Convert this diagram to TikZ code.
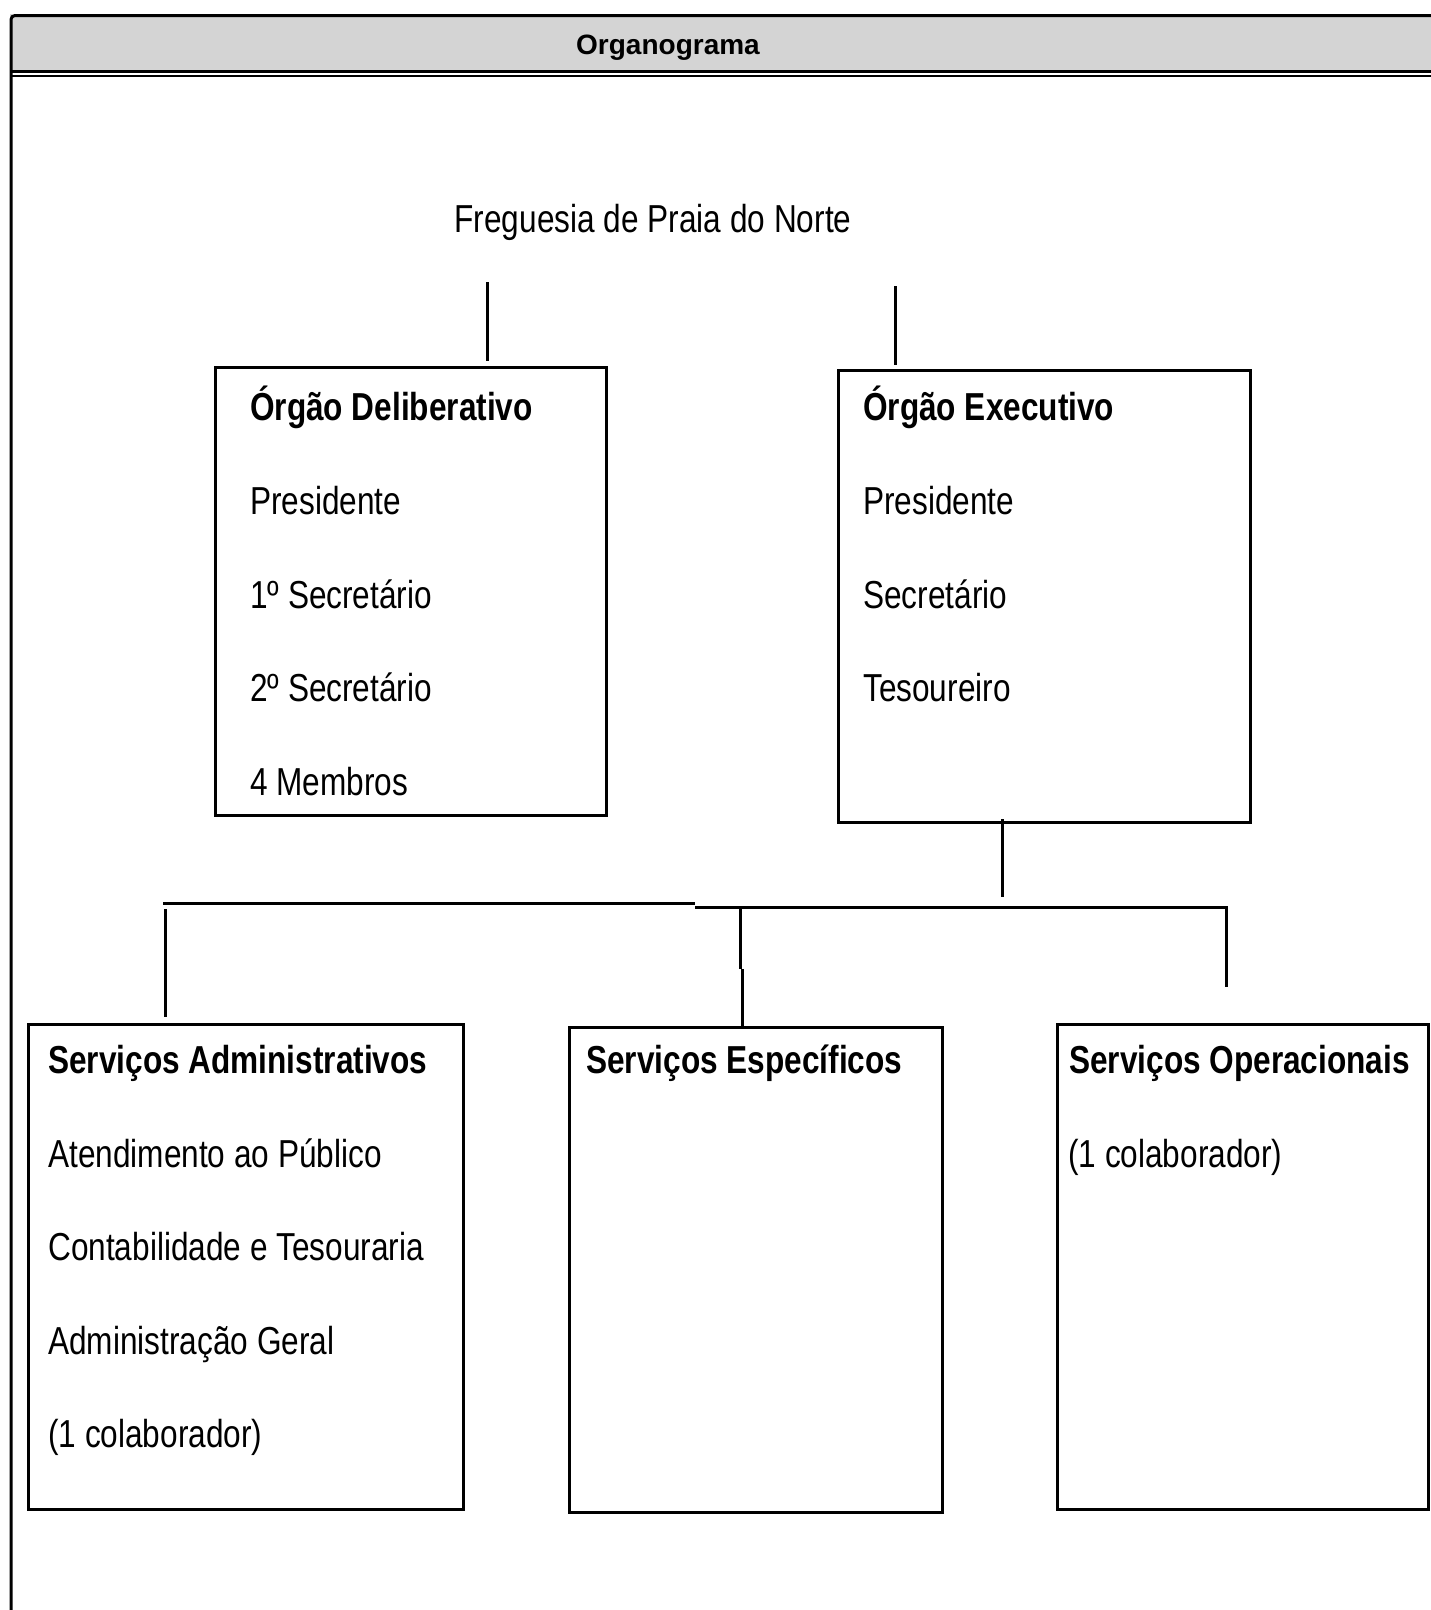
\documentclass[tikz,border=0pt]{standalone}
\usepackage{fontspec}
\setmainfont{Liberation Sans}[FakeStretch=0.81]
\newfontfamily\headfont{Liberation Sans}
\definecolor{hdrgray}{RGB}{212,212,212}
\begin{document}
\begin{tikzpicture}[x=1pt,y=-1pt,
  box/.style={draw, line width=3pt, anchor=north west, inner sep=0pt, outer sep=0pt},
  txt/.style={anchor=base west, inner sep=0pt, font=\fontsize{39}{39}\selectfont},
  hd/.style={anchor=base west, inner sep=0pt, font=\fontsize{39}{39}\selectfont\bfseries},
  conn/.style={line width=3pt}]
\useasboundingbox (0,0) rectangle (1431,1610);
% frame and header
\fill[hdrgray] (10,14) rectangle (1431,72);
\draw[line width=3pt, rounded corners=4pt] (11,1610) -- (11,15.5) -- (1431,15.5);
\draw[line width=3pt] (11,71.5) -- (1431,71.5);
\draw[line width=2pt] (11,76) -- (1431,76);
\node[anchor=base, inner sep=0pt, font=\headfont\bfseries\fontsize{28}{28}\selectfont] (hdr) at (668,54) {Organograma};
% title
\node[txt, anchor=base] (fr) at (653,232) {Freguesia de Praia do Norte};
% boxes
\node[box, minimum width=391pt, minimum height=448pt] (od) at (215,367) {};
\node[box, minimum width=412pt, minimum height=452pt] (oe) at (838,370) {};
\node[box, minimum width=435pt, minimum height=485pt] (sa) at (28,1024) {};
\node[box, minimum width=373pt, minimum height=485pt] (se) at (569,1027) {};
\node[box, minimum width=371pt, minimum height=485pt] (so) at (1057,1024) {};
% texts: Orgao Deliberativo
\node[hd] (od0) at (250,420) {Órgão Deliberativo};
\node[txt] (od1) at (250,514) {Presidente};
\node[txt] (od2) at (250,608) {1º Secretário};
\node[txt] (od3) at (250,701) {2º Secretário};
\node[txt] (od4) at (250,795) {4 Membros};
% Orgao Executivo
\node[hd] (oe0) at (863,420) {Órgão Executivo};
\node[txt] (oe1) at (863,514) {Presidente};
\node[txt] (oe2) at (863,608) {Secretário};
\node[txt] (oe3) at (863,701) {Tesoureiro};
% Servicos
\node[hd] (sa0) at (48,1073) {Serviços Administrativos};
\node[txt] (sa1) at (48,1167) {Atendimento ao Público};
\node[txt] (sa2) at (48,1260) {Contabilidade e Tesouraria};
\node[txt] (sa3) at (48,1354) {Administração Geral};
\node[txt] (sa4) at (48,1447) {(1 colaborador)};
\node[hd] (se0) at (586,1073) {Serviços Específicos};
\node[hd] (so0) at (1069,1073) {Serviços Operacionais};
\node[txt] (so1) at (1068,1167) {(1 colaborador)};
% connector coordinates
\coordinate (a1) at (487,282); \coordinate (a2) at (487,361);
\coordinate (b1) at (895,286); \coordinate (b2) at (895,365);
\coordinate (c1) at (1002,819); \coordinate (c2) at (1002,897);
\coordinate (h1) at (163,903); \coordinate (h2) at (695,903);
\coordinate (h3) at (695,907); \coordinate (h4) at (1226,907); \coordinate (h5) at (1226,987);
\coordinate (d1) at (165,909); \coordinate (d2) at (165,1017);
\coordinate (m1) at (740,907); \coordinate (m2) at (740,969);
\coordinate (m3) at (742,969); \coordinate (m4) at (742,1027);
% connectors
\draw[conn] (a1) -- (a2);
\draw[conn] (b1) -- (b2);
\draw[conn] (c1) -- (c2);
\draw[conn] (h1) -- (h2);
\draw[conn] (h3) -- (h4) -- (h5);
\draw[conn] (d1) -- (d2);
\draw[conn] (m1) -- (m2);
\draw[conn] (m3) -- (m4);
\end{tikzpicture}
\end{document}
